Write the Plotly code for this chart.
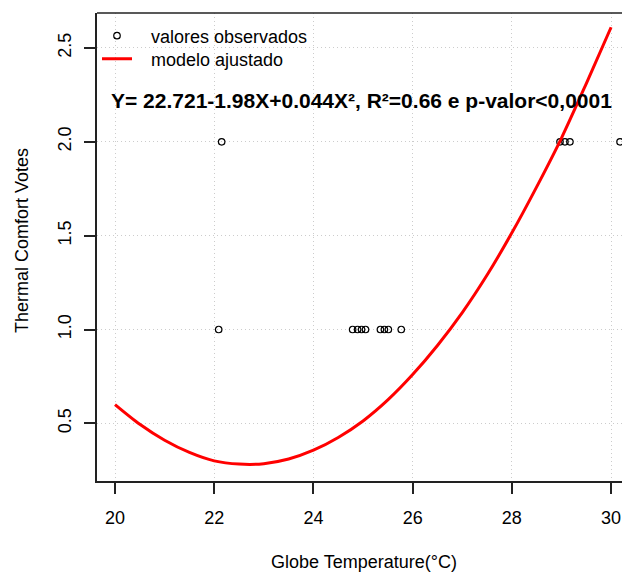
import plotly.graph_objects as go

obs_x = [22.09, 22.15, 24.79, 24.89, 24.97, 25.05, 25.35, 25.43, 25.51, 25.77,
         28.97, 29.07, 29.17, 30.18]
obs_y = [1.0, 2.0, 1.0, 1.0, 1.0, 1.0, 1.0, 1.0, 1.0, 1.0,
         2.0, 2.0, 2.0, 2.0]

# Fitted model curve
fit_x = [20.0, 20.5, 21.0, 21.5, 22.0, 22.5, 23.0, 23.5, 24.0, 24.5, 25.0,
         25.5, 26.0, 26.5, 27.0, 27.5, 28.0, 28.5, 29.0, 29.5, 30.0]
fit_y = [0.60, 0.495, 0.41, 0.345, 0.30, 0.283, 0.285, 0.31, 0.357, 0.425, 0.513,
         0.625, 0.76, 0.915, 1.09, 1.29, 1.515, 1.76, 2.02, 2.31, 2.61]

x_ticks = [20, 22, 24, 26, 28, 30]
y_ticks = [0.5, 1.0, 1.5, 2.0, 2.5]

legend_obs = "valores observados"
legend_fit = "modelo ajustado"
equation = "Y= 22.721-1.98X+0.044X², R²=0.66 e p-valor<0,0001"
x_title = "Globe Temperature(°C)"
y_title = "Thermal Comfort Votes"

FONT = "Liberation Sans, Arial, sans-serif"

W, H = 622, 572
L, R, T, B = 97, 0, 13, 91
pw = W - L - R
ph = H - T - B

PAD = "\u2002\u00a0"

fig = go.Figure()
fig.add_trace(go.Scatter(
    x=obs_x, y=obs_y, mode="markers", name=PAD + legend_obs,
    marker=dict(symbol="circle-open", size=6.5, color="black", line=dict(width=1.2)),
    cliponaxis=False, legend="legend",
))
fig.add_trace(go.Scatter(
    x=fit_x, y=fit_y, mode="lines", name=PAD + legend_fit,
    line=dict(color="#ff0000", width=3, shape="spline", smoothing=0.8),
    legend="legend2",
))

axis_common = dict(
    showline=True, linecolor="#222", linewidth=1.5,
    ticks="outside", ticklen=11, tickwidth=1.5, tickcolor="#222",
    showgrid=True, gridcolor="#cccccc", griddash="1px,3px", gridwidth=1,
    zeroline=False, tickfont=dict(family=FONT, size=18, color="black"),
)

leg_common = dict(xanchor="left", yanchor="middle", bgcolor="rgba(0,0,0,0)",
                  borderwidth=0, font=dict(family=FONT, size=18, color="black"),
                  itemwidth=30)

fig.update_layout(
    width=W, height=H,
    margin=dict(l=L, r=R, t=T, b=B, pad=0),
    paper_bgcolor="white", plot_bgcolor="white",
    font=dict(family=FONT, size=18, color="black"),
    xaxis=dict(range=[19.637, 30.22], tickvals=x_ticks, ticklabelstandoff=9,
               **axis_common),
    yaxis=dict(range=[0.193, 2.686], tickvals=y_ticks, tickangle=-90,
               tickformat=".1f", ticklabelstandoff=6, **axis_common),
    showlegend=True,
    legend=dict(x=0.0, y=1 - (36 - T) / ph, **leg_common),
    legend2=dict(x=0.0, y=1 - (59 - T) / ph, **leg_common),
)

# top border of the box
fig.add_shape(type="line", xref="paper", yref="paper", x0=0, x1=1, y0=1, y1=1,
              line=dict(color="#222", width=1.5))

fig.add_annotation(
    text=f"<b>{equation}</b>", xref="paper", yref="paper",
    x=(109 - L) / pw, y=1 - (100 - T) / ph, xanchor="left", yanchor="middle",
    showarrow=False, font=dict(family=FONT, size=21, color="black"),
)
fig.add_annotation(
    text=x_title, xref="paper", yref="paper",
    x=(364 - L) / pw, y=-(562 - (T + ph)) / ph, xanchor="center", yanchor="middle",
    showarrow=False, font=dict(family=FONT, size=18, color="black"),
)
fig.add_annotation(
    text=y_title, xref="paper", yref="paper", textangle=-90,
    x=-(L - 22) / pw, y=1 - (241 - T) / ph, xanchor="center", yanchor="middle",
    showarrow=False, font=dict(family=FONT, size=18, color="black"),
)

fig.write_html("out.html", config={"displayModeBar": False},
               post_script="document.body.style.margin='0';")
